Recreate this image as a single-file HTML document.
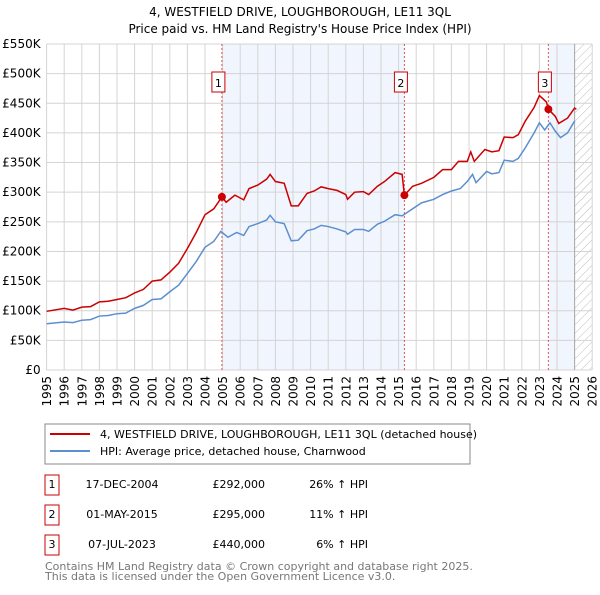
<!DOCTYPE html>
<html><head><meta charset="utf-8"><style>
body{margin:0;background:#fff;font-family:"Liberation Sans","DejaVu Sans",sans-serif;}
svg text{font-family:"DejaVu Sans","Liberation Sans",sans-serif;}
</style></head><body>
<svg width="600" height="590" viewBox="0 0 600 590" xmlns="http://www.w3.org/2000/svg">
<defs><pattern id="hatch" width="6" height="6" patternUnits="userSpaceOnUse" patternTransform="rotate(45)"><line x1="0" y1="0" x2="0" y2="6" stroke="#bbb" stroke-width="1"/></pattern></defs>
<text x="300" y="16" text-anchor="middle" font-size="12">4, WESTFIELD DRIVE, LOUGHBOROUGH, LE11 3QL</text>
<text x="300" y="33" text-anchor="middle" font-size="12">Price paid vs. HM Land Registry's House Price Index (HPI)</text>
<g id="plot"></g>
<rect x="45" y="424" width="425" height="40" fill="#fff" stroke="#888"/>
<line x1="50" y1="434" x2="90" y2="434" stroke="#cc0000" stroke-width="2"/>
<text x="100" y="438" font-size="11">4, WESTFIELD DRIVE, LOUGHBOROUGH, LE11 3QL (detached house)</text>
<line x1="50" y1="451" x2="90" y2="451" stroke="#5b8fd0" stroke-width="2"/>
<text x="100" y="455" font-size="11">HPI: Average price, detached house, Charnwood</text>
<g id="table" font-size="11"></g>
<text x="45" y="570" font-size="11" fill="#777">Contains HM Land Registry data © Crown copyright and database right 2025.</text>
<text x="45" y="580" font-size="11" fill="#777">This data is licensed under the Open Government Licence v3.0.</text>
</svg>
<script>
const redYears=[1995,1996,1996.5,1997,1997.5,1998,1998.5,1999,1999.5,2000,2000.5,2001,2001.5,2002,2002.5,2003,2003.5,2004,2004.5,2004.96,2005.2,2005.7,2006.2,2006.5,2007,2007.5,2007.7,2008,2008.5,2008.9,2009.3,2009.8,2010.2,2010.6,2011,2011.5,2012,2012.1,2012.5,2013,2013.3,2013.8,2014.2,2014.8,2015.2,2015.33,2015.8,2016.3,2017,2017.5,2018,2018.4,2018.9,2019.1,2019.3,2019.9,2020.3,2020.7,2021,2021.5,2021.8,2022.2,2022.7,2023,2023.4,2023.51,2023.9,2024.1,2024.6,2025.0,2025.1];
const redValues=[99,104,101,106,107,115,116,119,122,130,136,150,152,165,180,205,232,262,272,292,283,295,287,306,312,322,330,318,315,277,277,298,302,309,306,303,296,288,300,301,296,310,318,333,330,295,310,315,325,338,338,352,352,368,352,372,368,370,393,392,397,420,443,463,452,440,428,416,425,442,440];
const hpiYears=[1995,1996,1996.5,1997,1997.5,1998,1998.5,1999,1999.5,2000,2000.5,2001,2001.5,2002,2002.5,2003,2003.5,2004,2004.5,2004.9,2005.3,2005.8,2006.2,2006.5,2007,2007.5,2007.7,2008,2008.5,2008.9,2009.3,2009.8,2010.2,2010.6,2011,2011.5,2012,2012.1,2012.5,2013,2013.3,2013.8,2014.2,2014.8,2015.2,2015.6,2016.3,2017,2017.5,2018,2018.5,2018.9,2019.2,2019.4,2020,2020.3,2020.7,2021,2021.5,2021.8,2022.2,2022.7,2023,2023.3,2023.6,2023.9,2024.2,2024.6,2025.0];
const hpiValues=[78,81,80,84,85,91,92,95,96,104,109,119,120,132,143,163,183,207,217,234,224,232,227,242,247,253,261,250,247,218,219,235,238,244,242,238,233,229,237,237,234,246,251,262,260,268,282,288,296,302,306,318,330,316,335,331,333,354,352,357,375,400,417,405,417,403,392,400,420];
const saleYears=[2004.96,2015.33,2023.51];
const saleValues=[292,295,440];
const saleLabels=["1","2","3"];
const saleDates=["17-DEC-2004","01-MAY-2015","07-JUL-2023"];
const salePrices=["£292,000","£295,000","£440,000"];
const salePct=["26% ↑ HPI","11% ↑ HPI","6% ↑ HPI"];
const yTicks=[0,50,100,150,200,250,300,350,400,450,500,550];
const yTickLabels=["£0","£50K","£100K","£150K","£200K","£250K","£300K","£350K","£400K","£450K","£500K","£550K"];
const xTicks=[1995,1996,1997,1998,1999,2000,2001,2002,2003,2004,2005,2006,2007,2008,2009,2010,2011,2012,2013,2014,2015,2016,2017,2018,2019,2020,2021,2022,2023,2024,2025,2026];

const NS="http://www.w3.org/2000/svg";
const X0=46.6,XS=17.6,YT=44,YB=370;
const x=v=>X0+(v-1995)*XS;
const y=v=>YB-(v/550)*(YB-YT);
const plot=document.getElementById('plot');
function mk(tag,attrs,parent){const e=document.createElementNS(NS,tag);for(const k in attrs)e.setAttribute(k,attrs[k]);(parent||plot).appendChild(e);return e;}
const bg=mk('rect',{x:X0,y:YT,width:x(2026)-X0,height:YB-YT,fill:'#fff'});


const s1=mk('rect',{x:x(saleYears[0]),y:YT,width:x(saleYears[1])-x(saleYears[0]),height:YB-YT,fill:'#eef3fc',opacity:0.8});


const s2=mk('rect',{x:x(saleYears[2]),y:YT,width:x(2025)-x(saleYears[2]),height:YB-YT,fill:'#eef3fc',opacity:0.8});


const h=mk('rect',{x:x(2025),y:YT,width:x(2026)-x(2025),height:YB-YT,fill:'url(#hatch)'});


xTicks.forEach(t=>{
  const l=mk('line',{x1:x(t),x2:x(t),y1:YT,y2:YB,stroke:'#d4d4d4','stroke-width':1});
  
  
  const tx=mk('text',{x:0,y:0,'text-anchor':'end','font-size':12,transform:'translate('+(x(t)+4.5)+','+(YB+6)+') rotate(-90)'});
  
  
  tx.textContent=t;
});
yTicks.forEach((t,i)=>{
  const l=mk('line',{x1:X0,x2:x(2026),y1:y(t),y2:y(t),stroke:'#d4d4d4','stroke-width':1});
  
  
  const tx=mk('text',{x:X0-6,y:y(t)+4,'text-anchor':'end','font-size':12});
  
  
  tx.textContent=yTickLabels[i];
});
const ax=mk('line',{x1:x(2025),x2:x(2025),y1:YT,y2:YB,stroke:'#aaa','stroke-width':1});


saleYears.forEach((sy,i)=>{
  const l=mk('line',{x1:x(sy),x2:x(sy),y1:YT,y2:YB,stroke:'#e05555','stroke-width':1,'stroke-dasharray':'2,2'});
  
  
  const b=mk('rect',{x:x(sy)-10,y:72,width:13,height:20,fill:'#fff',stroke:'#cc0000'});
  
  
  const t=mk('text',{x:x(sy)-3.5,y:87,'text-anchor':'middle','font-size':11});
  
  
  t.textContent=saleLabels[i];
});
const hp=mk('polyline',{points:hpiYears.map((v,i)=>x(v)+','+y(hpiValues[i])).join(' '),fill:'none',stroke:'#5b8fd0','stroke-width':1.5});


const rp=mk('polyline',{points:redYears.map((v,i)=>x(v)+','+y(redValues[i])).join(' '),fill:'none',stroke:'#cc0000','stroke-width':1.5});


saleYears.forEach((sy,i)=>{
  const c=mk('circle',{cx:x(sy),cy:y(saleValues[i]),r:4,fill:'#cc0000'});
  
  
});
const tb=document.getElementById('table');
saleYears.forEach((sy,i)=>{
  const ry=484+i*30;
  const b=mk('rect',{x:45,y:ry-9,width:14,height:20,fill:'#fff',stroke:'#cc0000'},tb);
  
  
  const cols=[[52,saleLabels[i],'middle','table-row-number'],[122,saleDates[i],'middle','table-date'],[265,salePrices[i],'end','table-price'],[368,salePct[i],'end','table-hpi-diff']];
  cols.forEach(c=>{
    const t=mk('text',{x:c[0],y:ry+4,'text-anchor':c[2],'font-size':11},tb);
    
    
    t.textContent=c[1];
  });
});
</script>
</body></html>
